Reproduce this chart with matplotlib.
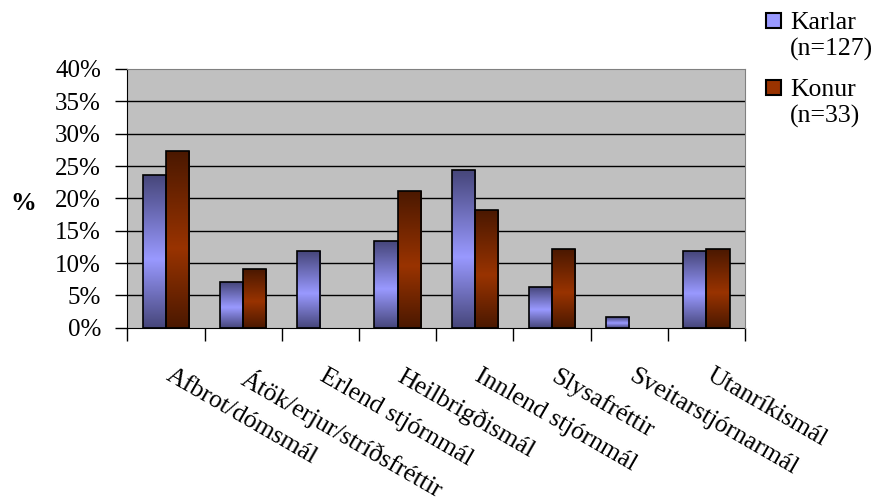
import matplotlib
matplotlib.use("Agg")
import matplotlib.pyplot as plt
import numpy as np
from matplotlib.colors import LinearSegmentedColormap
from matplotlib.patches import Rectangle
from matplotlib.ticker import FuncFormatter

# Data (share of news items per topic, %)
categories = ['Afbrot/dómsmál', 'Átök/erjur/stríðsfréttir', 'Erlend stjórnmál',
              'Heilbrigðismál', 'Innlend stjórnmál', 'Slysafréttir',
              'Sveitarstjórnarmál', 'Utanríkismál']
karlar = [23.6, 7.1, 11.8, 13.4, 24.4, 6.3, 1.6, 11.8]
konur = [27.3, 9.1, 0.0, 21.2, 18.2, 12.1, 0.0, 12.1]
series_labels = ['Karlar\n(n=127)', 'Konur\n(n=33)']
y_ticks = [0, 5, 10, 15, 20, 25, 30, 35, 40]

plt.rcParams['font.family'] = ['Liberation Serif', 'DejaVu Serif']
FS = 18.5

# dark - light - dark vertical shading like the old Excel bars
cmap_k = LinearSegmentedColormap.from_list('k', [(0, '#46467a'), (0.55, '#9999ff'), (1, '#46467a')])
cmap_w = LinearSegmentedColormap.from_list('w', [(0, '#4a1800'), (0.55, '#993300'), (1, '#4a1800')])

fig = plt.figure(figsize=(8.76, 5.04), dpi=100)
ax = fig.add_axes([0.1455, 0.3498, 0.705, 0.5133])
ax.set_facecolor('#c0c0c0')

x = np.arange(len(categories)) + 0.5
w = 0.3
grad = np.linspace(0, 1, 256).reshape(-1, 1)

for vals, offs, cmap in [(karlar, -w / 2, cmap_k), (konur, w / 2, cmap_w)]:
    bars = ax.bar(x + offs, vals, width=w, facecolor='none', edgecolor='black',
                  linewidth=1.2, zorder=3)
    for b in bars:
        if b.get_height() <= 0:
            b.set_linewidth(0)
            continue
        x0, y0 = b.get_x(), b.get_y()
        im = ax.imshow(grad, cmap=cmap, aspect='auto', zorder=2,
                       extent=(x0, x0 + b.get_width(), y0, y0 + b.get_height()))
        im.set_clip_path(b)

ax.set_xlim(0, len(categories))
ax.set_ylim(0, 40)

# gridlines
for yv in y_ticks[1:-1]:
    ax.axhline(yv, color='black', linewidth=1, zorder=1)

ax.set_yticks(y_ticks)
ax.yaxis.set_major_formatter(FuncFormatter(lambda v, p: f"{int(v)}%"))
ax.tick_params(axis='y', direction='out', length=9, width=1, pad=10, labelsize=18)
ax.set_xticks(np.arange(len(categories) + 1))
ax.set_xticklabels([])
ax.tick_params(axis='x', direction='out', length=9, width=1)

for s in ['top', 'right']:
    ax.spines[s].set_color('#808080')
    ax.spines[s].set_zorder(5)
for s in ['left', 'bottom']:
    ax.spines[s].set_color('black')

# category labels
for xi, lab in zip(x, categories):
    ax.annotate(lab, xy=(xi, 0), xycoords=('data', 'axes fraction'),
                xytext=(7, -37), textcoords='offset pixels',
                rotation=-30, rotation_mode='anchor', ha='left', va='top',
                fontsize=FS)

ax.set_ylabel('%', rotation=0, fontsize=FS, fontweight='bold', ha='center', va='center')
ax.yaxis.set_label_coords(-0.168, 0.48)

# legend
leg_cols = ['#9999ff', '#993300']
for i, (lab, col) in enumerate(zip(series_labels, leg_cols)):
    top = 13 + i * 67
    fig.patches.append(Rectangle((766 / 876, 1 - (top + 15) / 504), 15 / 876, 15 / 504,
                                 transform=fig.transFigure, facecolor=col,
                                 edgecolor='black', linewidth=1.5))
    fig.text(790 / 876, 1 - (top - 1) / 504, lab, fontsize=FS, ha='left', va='top',
             linespacing=1.2)

fig.savefig('out.png', dpi=100)
